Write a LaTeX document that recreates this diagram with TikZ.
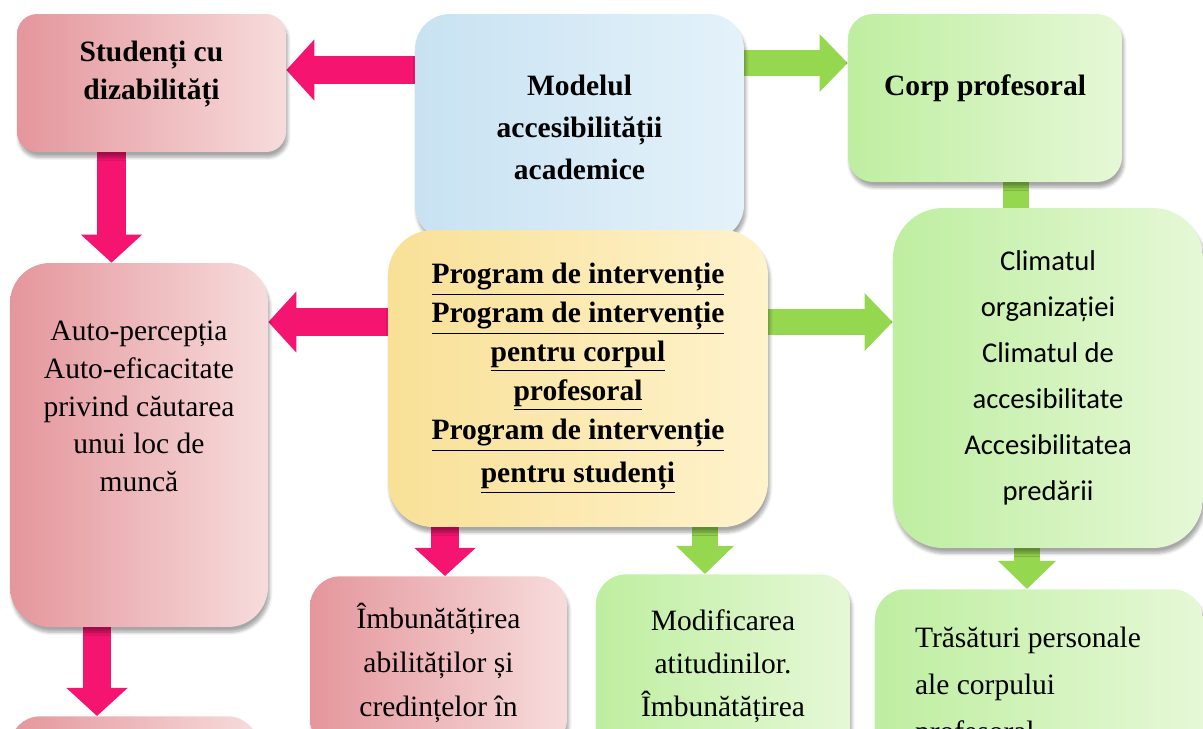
\documentclass[tikz,border=0pt]{standalone}
\usepackage{fontspec}
\setmainfont{Liberation Serif}
\newfontfamily\calfont{Carlito}
\usetikzlibrary{arrows.meta,shadows.blur,backgrounds}
\definecolor{pinkL}{RGB}{228,150,156}
\definecolor{pinkR}{RGB}{247,220,220}
\definecolor{blueL}{RGB}{200,226,242}
\definecolor{blueR}{RGB}{228,242,250}
\definecolor{greenL}{RGB}{190,238,160}
\definecolor{greenR}{RGB}{230,248,215}
\definecolor{yelL}{RGB}{248,224,150}
\definecolor{yelR}{RGB}{255,243,205}
\definecolor{pinkA}{RGB}{245,20,112}
\definecolor{greenA}{RGB}{150,215,80}
\begin{document}
\begin{tikzpicture}[
        x=0.02cm, y=-0.02cm,
        bsty/.style={
            rectangle, rounded corners=0.6cm,
            inner sep=0pt, align=center,
            blur shadow={shadow xshift=1pt, shadow yshift=-3pt, shadow opacity=35, shadow blur steps=6},
            font=\fontsize{16.8pt}{21.6pt}\selectfont,
        },
        csty0/.style={left color=pinkL, right color=pinkR},
        csty1/.style={left color=blueL, right color=blueR},
        csty2/.style={left color=greenL, right color=greenR},
        csty3/.style={left color=yelL, right color=yelR},
        parr/.style={draw=pinkA, line width=16pt, -{Triangle[width=34pt,length=16pt]}},
        garr/.style={draw=greenA, line width=15pt, -{Triangle[width=32pt,length=16pt]}},
    ]
    \clip (0,0) rectangle (1203,728);

    % top row
    \node[bsty,csty0,rounded corners=0.4cm,minimum width=5.38cm,minimum height=2.76cm,text depth=0.5cm]
        at (151.5,83) (stud) {\bfseries Studenți cu\\\bfseries dizabilități};
    \node[bsty,csty1,rounded corners=0.7cm,minimum width=6.58cm,minimum height=4.52cm,
        font=\fontsize{16.8pt}{23.9pt}\selectfont\bfseries]
        at (579.5,127) (mod) {Modelul\\accesibilității\\academice};
    \node[bsty,csty2,rounded corners=0.5cm,minimum width=5.48cm,minimum height=3.36cm,text depth=0.52cm]
        at (985,98) (corp) {\bfseries Corp profesoral};

    % middle row
    \node[bsty,csty0,rounded corners=0.8cm,minimum width=5.16cm,minimum height=7.28cm,text depth=1.55cm]
        at (139,445) (auto) {Auto-percepția\\Auto-eficacitate\\privind căutarea\\unui loc de\\muncă};
    \node[bsty,csty3,rounded corners=0.9cm,minimum width=7.6cm,minimum height=5.94cm,
        font=\fontsize{16.8pt}{22.2pt}\selectfont\bfseries]
        at (578,378.5) (prog) {\underline{Program de intervenție}\\\underline{Program de intervenție}\\
        \underline{pentru corpul}\\\underline{profesoral}\\\underline{Program de intervenție}\\[2pt]
        \underline{pentru studenți}};
    \node[bsty,csty2,rounded corners=1cm,minimum width=6.2cm,minimum height=6.8cm,
        font=\calfont\fontsize{16.3pt}{26.2pt}\selectfont]
        at (1048,378) (clim) {Climatul\\organizației\\Climatul de\\accesibilitate\\Accesibilitatea\\predării};

    % bottom row
    \node[bsty,csty0,anchor=north,inner ysep=0.53cm,minimum width=5.14cm,
        font=\fontsize{16.8pt}{25pt}\selectfont]
        at (438.5,576) (imb) {Îmbunătățirea\\abilităților și\\credințelor în};
    \node[bsty,csty2,anchor=north,inner ysep=0.71cm,minimum width=5.08cm,
        font=\fontsize{16.8pt}{24.5pt}\selectfont]
        at (723,574) (modif) {Modificarea\\atitudinilor.\\Îmbunătățirea};
    \node[bsty,csty2,anchor=north,inner ysep=0.76cm,minimum width=6.56cm,align=left,
        font=\fontsize{16.8pt}{26.7pt}\selectfont]
        at (1039,589) (tras) {Trăsături personale\hspace*{0.44cm}\\ale corpului\\profesoral};
    \node[bsty,csty0,anchor=north,minimum width=4.96cm,minimum height=2cm]
        at (134,716) (last) {};

    % block arrows
    \begin{scope}[on background layer]
    \draw[parr] ([yshift=0.26cm]stud.east -| mod.west) -- ([yshift=0.26cm]stud.east);
    \draw[garr] ([yshift=0.7cm]corp.west -| mod.east) -- ([yshift=0.7cm]corp.west);
    \draw[parr] ([xshift=-0.8cm]stud.south) -- ([xshift=-0.8cm]stud.south |- auto.north);
    \draw[garr] ([xshift=0.62cm]corp.south) -- ([xshift=0.62cm]corp.south |- clim.center);
    \draw[parr] ([yshift=1.13cm]prog.west) -- ([yshift=1.13cm]prog.west -| auto.east);
    \draw[garr] ([yshift=1.13cm]prog.east) -- ([yshift=1.13cm]prog.east -| clim.west);
    \draw[parr] ([xshift=-2.66cm]prog.south) -- ([xshift=-2.66cm]prog.south |- imb.north);
    \draw[garr] ([xshift=2.54cm]prog.south) -- ([xshift=2.54cm]prog.south |- modif.north);
    \draw[garr] ([xshift=-0.42cm]clim.south) -- ([xshift=-0.42cm]clim.south |- tras.north);
    \draw[parr] ([xshift=-0.84cm]auto.south) -- ([xshift=-0.84cm]auto.south |- last.north);
    \end{scope}
\end{tikzpicture}
\end{document}
